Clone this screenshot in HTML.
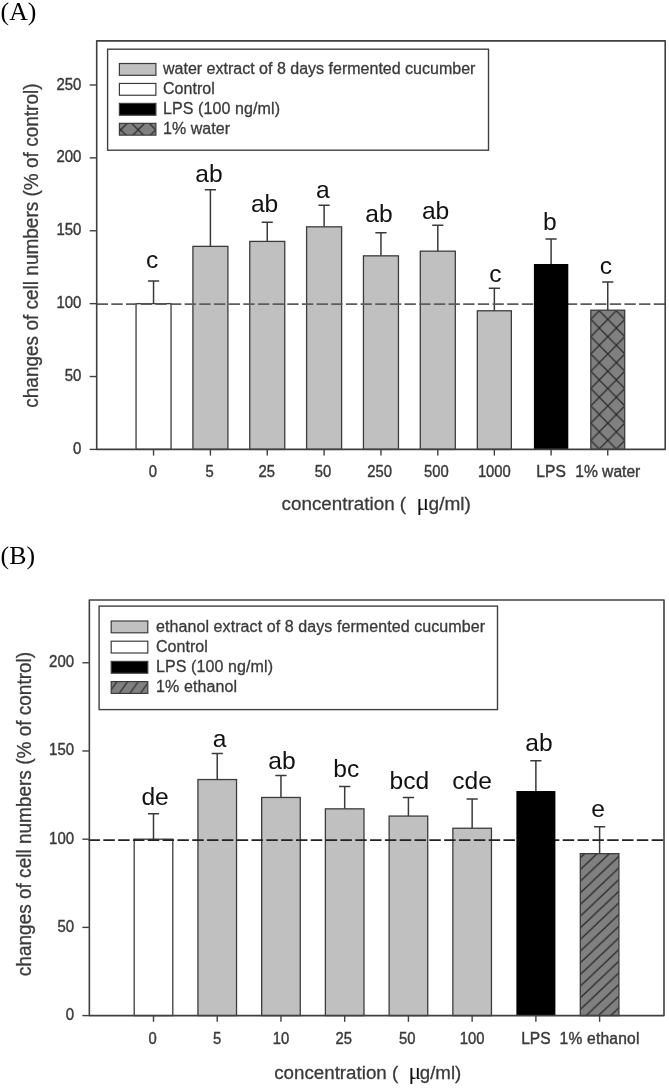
<!DOCTYPE html>
<html><head><meta charset="utf-8"><title>Figure</title>
<style>
html,body{margin:0;padding:0;background:#fff;}
svg{display:block;will-change:transform;}
text{font-family:"Liberation Sans",sans-serif;fill:#3a3a3a;stroke:#3a3a3a;stroke-width:0.3px;}
.tick{font-size:15.6px;stroke-width:0.4px;}
.leg{font-size:16px;}
.title{font-size:19.2px;}
.ytitle{font-size:19.6px;}
.lab{font-size:24.6px;fill:#111;stroke:none;}
.mu{font-family:"Liberation Serif",serif;font-size:23.5px;fill:#111;stroke:none;}
.panel{font-family:"Liberation Serif",serif;font-size:25.8px;fill:#000;stroke:none;}
</style></head>
<body>
<svg width="669" height="1089" viewBox="0 0 669 1089">
<defs>
<pattern id="xh" patternUnits="userSpaceOnUse" width="17.04" height="17.3" x="599.3" y="310.7">
<rect width="17.04" height="17.3" fill="#808080"/>
<path d="M0 0L17.04 17.3M17.04 0L0 17.3" stroke="#2a2a2a" stroke-width="1.25" stroke-linecap="square"/>
</pattern>
<pattern id="dh" patternUnits="userSpaceOnUse" width="12.27" height="11.66" x="580.3" y="869.6">
<rect width="12.27" height="11.66" fill="#808080"/>
<path d="M-2.105 2L2.105 -2M0 11.66L12.27 0M10.165 13.66L14.375 9.66" stroke="#2a2a2a" stroke-width="1.25"/>
</pattern>
<pattern id="xh2" patternUnits="userSpaceOnUse" width="17.5" height="17.3" x="120.7" y="129.8">
<rect width="17.5" height="17.3" fill="#808080"/>
<path d="M0 0L17.5 17.3M17.5 0L0 17.3" stroke="#2a2a2a" stroke-width="1.25" stroke-linecap="square"/>
</pattern>
<pattern id="dh2" patternUnits="userSpaceOnUse" width="10.6" height="14.7" x="119.1" y="678.8">
<rect width="10.6" height="14.7" fill="#808080"/>
<path d="M-2 17.47L12.6 -2.77" stroke="#2a2a2a" stroke-width="1.25"/>
</pattern>
</defs>
<rect width="669" height="1089" fill="#fff"/>
<text x="0.6" y="19.5" class="panel">(A)</text>
<text x="0.6" y="563.9" class="panel">(B)</text>
<path d="M153.55 303.64V281.05M147.95 281.05H159.15" stroke="#3a3a3a" stroke-width="1.5" fill="none"/>
<rect x="136.05" y="303.64" width="35.00" height="145.76" fill="#fff" stroke="#3c3c3c" stroke-width="1.3"/>
<text x="152.20" y="268.20" class="lab" text-anchor="middle">c</text>
<path d="M153.55 449.40v6.2" stroke="#404040" stroke-width="1.4"/>
<text transform="translate(152.75 477.30) scale(0.95 1)" class="tick" text-anchor="middle" letter-spacing="0">0</text>
<path d="M210.40 246.36V189.80M204.80 189.80H216.00" stroke="#3a3a3a" stroke-width="1.5" fill="none"/>
<rect x="192.90" y="246.36" width="35.00" height="203.04" fill="#c0c0c0" stroke="#3c3c3c" stroke-width="1.3"/>
<text x="208.90" y="181.50" class="lab" text-anchor="middle">ab</text>
<path d="M210.40 449.40v6.2" stroke="#404040" stroke-width="1.4"/>
<text transform="translate(209.70 477.30) scale(0.95 1)" class="tick" text-anchor="middle" letter-spacing="0">5</text>
<path d="M267.25 241.40V222.16M261.65 222.16H272.85" stroke="#3a3a3a" stroke-width="1.5" fill="none"/>
<rect x="249.75" y="241.40" width="35.00" height="208.00" fill="#c0c0c0" stroke="#3c3c3c" stroke-width="1.3"/>
<text x="264.60" y="212.00" class="lab" text-anchor="middle">ab</text>
<path d="M267.25 449.40v6.2" stroke="#404040" stroke-width="1.4"/>
<text transform="translate(266.75 477.30) scale(0.95 1)" class="tick" text-anchor="middle" letter-spacing="0">25</text>
<path d="M324.10 226.82V205.25M318.50 205.25H329.70" stroke="#3a3a3a" stroke-width="1.5" fill="none"/>
<rect x="306.60" y="226.82" width="35.00" height="222.58" fill="#c0c0c0" stroke="#3c3c3c" stroke-width="1.3"/>
<text x="322.80" y="197.80" class="lab" text-anchor="middle">a</text>
<path d="M324.10 449.40v6.2" stroke="#404040" stroke-width="1.4"/>
<text transform="translate(323.10 477.30) scale(0.95 1)" class="tick" text-anchor="middle" letter-spacing="0">50</text>
<path d="M380.95 255.83V232.80M375.35 232.80H386.55" stroke="#3a3a3a" stroke-width="1.5" fill="none"/>
<rect x="363.45" y="255.83" width="35.00" height="193.57" fill="#c0c0c0" stroke="#3c3c3c" stroke-width="1.3"/>
<text x="379.00" y="222.20" class="lab" text-anchor="middle">ab</text>
<path d="M380.95 449.40v6.2" stroke="#404040" stroke-width="1.4"/>
<text transform="translate(379.55 477.30) scale(0.95 1)" class="tick" text-anchor="middle" letter-spacing="0">250</text>
<path d="M437.80 251.17V225.37M432.20 225.37H443.40" stroke="#3a3a3a" stroke-width="1.5" fill="none"/>
<rect x="420.30" y="251.17" width="35.00" height="198.23" fill="#c0c0c0" stroke="#3c3c3c" stroke-width="1.3"/>
<text x="435.60" y="218.90" class="lab" text-anchor="middle">ab</text>
<path d="M437.80 449.40v6.2" stroke="#404040" stroke-width="1.4"/>
<text transform="translate(436.40 477.30) scale(0.95 1)" class="tick" text-anchor="middle" letter-spacing="0">500</text>
<path d="M494.35 310.78V288.19M488.75 288.19H499.95" stroke="#3a3a3a" stroke-width="1.5" fill="none"/>
<rect x="477.35" y="310.78" width="34.00" height="138.62" fill="#c0c0c0" stroke="#3c3c3c" stroke-width="1.3"/>
<text x="495.40" y="281.90" class="lab" text-anchor="middle">c</text>
<path d="M494.35 449.40v6.2" stroke="#404040" stroke-width="1.4"/>
<text transform="translate(494.35 477.30) scale(0.95 1)" class="tick" text-anchor="middle" letter-spacing="0">1000</text>
<path d="M551.10 263.99V238.92M545.50 238.92H556.70" stroke="#3a3a3a" stroke-width="1.5" fill="none"/>
<text x="549.80" y="230.10" class="lab" text-anchor="middle">b</text>
<path d="M551.10 449.40v6.2" stroke="#404040" stroke-width="1.4"/>
<text transform="translate(551.10 477.30) scale(1.0 1)" class="tick" text-anchor="middle" letter-spacing="0">LPS</text>
<path d="M607.75 310.20V282.07M602.15 282.07H613.35" stroke="#3a3a3a" stroke-width="1.5" fill="none"/>
<rect x="590.80" y="310.20" width="33.90" height="139.20" fill="url(#xh)" stroke="#3c3c3c" stroke-width="1.3"/>
<text x="605.80" y="273.80" class="lab" text-anchor="middle">c</text>
<path d="M607.75 449.40v6.2" stroke="#404040" stroke-width="1.4"/>
<text transform="translate(607.75 477.30) scale(1.0 1)" class="tick" text-anchor="middle" letter-spacing="0">1% water</text>
<path d="M96.70 304.04H665.20" stroke="#5c5c5c" stroke-width="1.7" stroke-dasharray="11.3 3.36" fill="none"/>
<rect x="533.90" y="263.99" width="34.40" height="185.41" fill="#000" stroke="none" stroke-width="0"/>
<rect x="96.70" y="40.85" width="568.50" height="408.55" fill="none" stroke="#404040" stroke-width="1.6" stroke-linejoin="round"/>
<path d="M89.70 449.40H96.70" stroke="#404040" stroke-width="1.4"/>
<text transform="translate(81.40 453.90) scale(0.96 1)" class="tick" text-anchor="end">0</text>
<path d="M89.70 376.52H96.70" stroke="#404040" stroke-width="1.4"/>
<text transform="translate(81.40 381.02) scale(0.96 1)" class="tick" text-anchor="end">50</text>
<path d="M89.70 303.64H96.70" stroke="#404040" stroke-width="1.4"/>
<text transform="translate(81.40 308.14) scale(0.96 1)" class="tick" text-anchor="end">100</text>
<path d="M89.70 230.76H96.70" stroke="#404040" stroke-width="1.4"/>
<text transform="translate(81.40 235.26) scale(0.96 1)" class="tick" text-anchor="end">150</text>
<path d="M89.70 157.88H96.70" stroke="#404040" stroke-width="1.4"/>
<text transform="translate(81.40 162.38) scale(0.96 1)" class="tick" text-anchor="end">200</text>
<path d="M89.70 85.00H96.70" stroke="#404040" stroke-width="1.4"/>
<text transform="translate(81.40 89.50) scale(0.96 1)" class="tick" text-anchor="end">250</text>
<text transform="translate(37.90 245.60) rotate(-90)" class="ytitle" text-anchor="middle" textLength="324.3" lengthAdjust="spacingAndGlyphs">changes of cell numbers (% of control)</text>
<text x="281.60" y="510.20" class="title" textLength="124.5" lengthAdjust="spacingAndGlyphs">concentration (</text>
<text x="416.60" y="510.20" class="mu">μ</text>
<text x="428.60" y="510.20" class="title" textLength="42.3" lengthAdjust="spacingAndGlyphs">g/ml)</text>
<rect x="107.60" y="49.20" width="380.90" height="101.00" fill="#fff" stroke="#404040" stroke-width="1.4"/>
<rect x="119.40" y="63.50" width="36.50" height="11.80" fill="#c0c0c0" stroke="#3c3c3c" stroke-width="1.2"/>
<text x="163.00" y="74.40" class="leg" textLength="312.4" lengthAdjust="spacing">water extract of 8 days fermented cucumber</text>
<rect x="119.40" y="83.45" width="36.50" height="11.80" fill="#fff" stroke="#3c3c3c" stroke-width="1.2"/>
<text x="163.00" y="94.35" class="leg" textLength="51.7" lengthAdjust="spacing">Control</text>
<rect x="119.40" y="103.40" width="36.50" height="11.80" fill="#000" stroke="#3c3c3c" stroke-width="1.2"/>
<text x="163.00" y="114.30" class="leg" textLength="117" lengthAdjust="spacing">LPS (100 ng/ml)</text>
<rect x="119.40" y="123.35" width="36.50" height="11.80" fill="url(#xh2)" stroke="#3c3c3c" stroke-width="1.2"/>
<text x="163.00" y="134.25" class="leg" textLength="67" lengthAdjust="spacing">1% water</text>
<path d="M153.50 839.18V813.78M147.90 813.78H159.10" stroke="#3a3a3a" stroke-width="1.5" fill="none"/>
<rect x="134.20" y="839.18" width="38.60" height="176.42" fill="#fff" stroke="#3c3c3c" stroke-width="1.3"/>
<text x="155.10" y="804.50" class="lab" text-anchor="middle">de</text>
<path d="M153.50 1015.60v6.2" stroke="#404040" stroke-width="1.4"/>
<text transform="translate(152.70 1043.50) scale(0.95 1)" class="tick" text-anchor="middle" letter-spacing="0">0</text>
<path d="M217.23 779.55V753.44M211.63 753.44H222.83" stroke="#3a3a3a" stroke-width="1.5" fill="none"/>
<rect x="197.93" y="779.55" width="38.60" height="236.05" fill="#c0c0c0" stroke="#3c3c3c" stroke-width="1.3"/>
<text x="219.50" y="747.30" class="lab" text-anchor="middle">a</text>
<path d="M217.23 1015.60v6.2" stroke="#404040" stroke-width="1.4"/>
<text transform="translate(217.23 1043.50) scale(0.95 1)" class="tick" text-anchor="middle" letter-spacing="0">5</text>
<path d="M280.96 797.46V775.58M275.36 775.58H286.56" stroke="#3a3a3a" stroke-width="1.5" fill="none"/>
<rect x="261.66" y="797.46" width="38.60" height="218.14" fill="#c0c0c0" stroke="#3c3c3c" stroke-width="1.3"/>
<text x="281.90" y="768.90" class="lab" text-anchor="middle">ab</text>
<path d="M280.96 1015.60v6.2" stroke="#404040" stroke-width="1.4"/>
<text transform="translate(280.96 1043.50) scale(0.95 1)" class="tick" text-anchor="middle" letter-spacing="0">10</text>
<path d="M344.69 808.84V786.61M339.09 786.61H350.29" stroke="#3a3a3a" stroke-width="1.5" fill="none"/>
<rect x="325.39" y="808.84" width="38.60" height="206.76" fill="#c0c0c0" stroke="#3c3c3c" stroke-width="1.3"/>
<text x="346.30" y="776.50" class="lab" text-anchor="middle">bc</text>
<path d="M344.69 1015.60v6.2" stroke="#404040" stroke-width="1.4"/>
<text transform="translate(343.69 1043.50) scale(0.95 1)" class="tick" text-anchor="middle" letter-spacing="0">25</text>
<path d="M408.42 816.07V797.54M402.82 797.54H414.02" stroke="#3a3a3a" stroke-width="1.5" fill="none"/>
<rect x="389.12" y="816.07" width="38.60" height="199.53" fill="#c0c0c0" stroke="#3c3c3c" stroke-width="1.3"/>
<text x="409.40" y="789.20" class="lab" text-anchor="middle">bcd</text>
<path d="M408.42 1015.60v6.2" stroke="#404040" stroke-width="1.4"/>
<text transform="translate(407.22 1043.50) scale(0.95 1)" class="tick" text-anchor="middle" letter-spacing="0">50</text>
<path d="M472.15 828.24V798.96M466.55 798.96H477.75" stroke="#3a3a3a" stroke-width="1.5" fill="none"/>
<rect x="452.85" y="828.24" width="38.60" height="187.36" fill="#c0c0c0" stroke="#3c3c3c" stroke-width="1.3"/>
<text x="472.10" y="788.70" class="lab" text-anchor="middle">cde</text>
<path d="M472.15 1015.60v6.2" stroke="#404040" stroke-width="1.4"/>
<text transform="translate(472.15 1043.50) scale(0.95 1)" class="tick" text-anchor="middle" letter-spacing="0">100</text>
<path d="M535.88 791.02V760.67M530.28 760.67H541.48" stroke="#3a3a3a" stroke-width="1.5" fill="none"/>
<text x="539.00" y="751.10" class="lab" text-anchor="middle">ab</text>
<path d="M535.88 1015.60v6.2" stroke="#404040" stroke-width="1.4"/>
<text transform="translate(535.88 1043.50) scale(1.0 1)" class="tick" text-anchor="middle" letter-spacing="0">LPS</text>
<path d="M599.61 853.65V826.65M594.01 826.65H605.21" stroke="#3a3a3a" stroke-width="1.5" fill="none"/>
<rect x="580.31" y="853.65" width="38.60" height="161.95" fill="url(#dh)" stroke="#3c3c3c" stroke-width="1.3"/>
<text x="598.10" y="816.70" class="lab" text-anchor="middle">e</text>
<path d="M599.61 1015.60v6.2" stroke="#404040" stroke-width="1.4"/>
<text transform="translate(599.61 1043.50) scale(1.0 1)" class="tick" text-anchor="middle" letter-spacing="0.2">1% ethanol</text>
<path d="M88.50 840.08H664.00" stroke="#222" stroke-width="1.8" stroke-dasharray="11.45 3.37" fill="none"/>
<rect x="516.38" y="791.02" width="39.00" height="224.58" fill="#000" stroke="none" stroke-width="0"/>
<rect x="89.35" y="600.00" width="574.65" height="415.60" fill="none" stroke="#404040" stroke-width="1.6" stroke-linejoin="round"/>
<path d="M82.35 1015.60H89.35" stroke="#404040" stroke-width="1.4"/>
<text transform="translate(74.05 1020.10) scale(0.96 1)" class="tick" text-anchor="end">0</text>
<path d="M82.35 927.39H89.35" stroke="#404040" stroke-width="1.4"/>
<text transform="translate(74.05 931.89) scale(0.96 1)" class="tick" text-anchor="end">50</text>
<path d="M82.35 839.18H89.35" stroke="#404040" stroke-width="1.4"/>
<text transform="translate(74.05 843.68) scale(0.96 1)" class="tick" text-anchor="end">100</text>
<path d="M82.35 750.97H89.35" stroke="#404040" stroke-width="1.4"/>
<text transform="translate(74.05 755.47) scale(0.96 1)" class="tick" text-anchor="end">150</text>
<path d="M82.35 662.76H89.35" stroke="#404040" stroke-width="1.4"/>
<text transform="translate(74.05 667.26) scale(0.96 1)" class="tick" text-anchor="end">200</text>
<text transform="translate(31.40 814.00) rotate(-90)" class="ytitle" text-anchor="middle" textLength="324.3" lengthAdjust="spacingAndGlyphs">changes of cell numbers (% of control)</text>
<text x="274.20" y="1078.80" class="title" textLength="124.0" lengthAdjust="spacingAndGlyphs">concentration (</text>
<text x="408.40" y="1078.80" class="mu">μ</text>
<text x="419.80" y="1078.80" class="title" textLength="41.5" lengthAdjust="spacingAndGlyphs">g/ml)</text>
<rect x="99.10" y="606.10" width="398.40" height="103.50" fill="#fff" stroke="#404040" stroke-width="1.4"/>
<rect x="111.20" y="621.00" width="36.60" height="11.80" fill="#c0c0c0" stroke="#3c3c3c" stroke-width="1.2"/>
<text x="156.00" y="631.80" class="leg" textLength="329" lengthAdjust="spacing">ethanol extract of 8 days fermented cucumber</text>
<rect x="111.20" y="641.20" width="36.60" height="11.80" fill="#fff" stroke="#3c3c3c" stroke-width="1.2"/>
<text x="156.00" y="652.00" class="leg" textLength="51.7" lengthAdjust="spacing">Control</text>
<rect x="111.20" y="661.40" width="36.60" height="11.80" fill="#000" stroke="#3c3c3c" stroke-width="1.2"/>
<text x="156.00" y="672.20" class="leg" textLength="117" lengthAdjust="spacing">LPS (100 ng/ml)</text>
<rect x="111.20" y="681.60" width="36.60" height="11.80" fill="url(#dh2)" stroke="#3c3c3c" stroke-width="1.2"/>
<text x="156.00" y="692.40" class="leg" textLength="81" lengthAdjust="spacing">1% ethanol</text>
</svg>
</body></html>
